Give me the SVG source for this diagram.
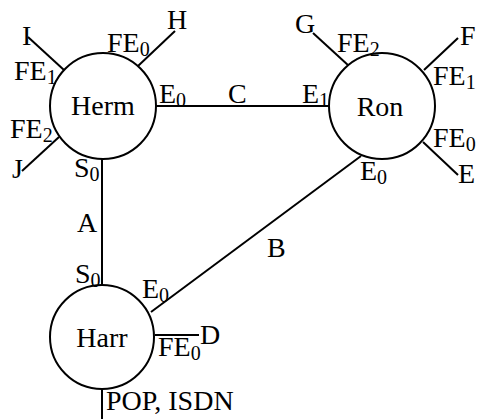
<svg xmlns="http://www.w3.org/2000/svg" width="477" height="419" viewBox="0 0 477 419">
<style>
text{font-family:"Liberation Serif","Times New Roman",serif;font-size:28px;fill:#000}
.sub{font-size:20px}
.mid{text-anchor:middle}
circle{fill:#fff;stroke:#000;stroke-width:2}
line{stroke:#000;stroke-width:2}
</style>
<rect width="477" height="419" fill="#fff"/>
<g id="connectors">
<line x1="102" y1="159" x2="102" y2="285"/>
<line x1="156" y1="106" x2="329" y2="106"/>
<line x1="151" y1="312" x2="361" y2="156"/>
<line x1="155" y1="335" x2="199" y2="335"/>
<line x1="102" y1="390" x2="102" y2="419"/>
<line x1="138" y1="66" x2="175" y2="31"/>
<line x1="64" y1="70" x2="28" y2="37"/>
<line x1="59" y1="137" x2="22" y2="171"/>
<line x1="349" y1="66" x2="313" y2="33"/>
<line x1="424" y1="70" x2="458" y2="38"/>
<line x1="423" y1="142" x2="458" y2="175"/>
<text x="228" y="103">C</text>
<text x="77" y="232">A</text>
<text x="267" y="257">B</text>
<text x="200" y="344">D</text>
<text x="106" y="410">POP, ISDN</text>
<text x="167" y="29">H</text>
<text x="22" y="45">I</text>
<text x="12" y="178">J</text>
<text x="295" y="33">G</text>
<text x="460" y="45">F</text>
<text x="458" y="183">E</text>
</g>
<g id="herm">
<circle cx="103" cy="106" r="53"/>
<text class="mid" x="103" y="115">Herm</text>
<text x="107" y="52">FE<tspan class="sub" dy="4">0</tspan></text>
<text x="14" y="80">FE<tspan class="sub" dy="4">1</tspan></text>
<text x="10" y="138">FE<tspan class="sub" dy="4">2</tspan></text>
<text x="159" y="103">E<tspan class="sub" dy="4">0</tspan></text>
<text x="74" y="177">S<tspan class="sub" dy="4">0</tspan></text>
</g>
<g id="ron">
<circle cx="382" cy="106" r="53"/>
<text class="mid" x="380" y="116">Ron</text>
<text x="302" y="103">E<tspan class="sub" dy="4">1</tspan></text>
<text x="337" y="52">FE<tspan class="sub" dy="4">2</tspan></text>
<text x="433" y="85">FE<tspan class="sub" dy="4">1</tspan></text>
<text x="433" y="147">FE<tspan class="sub" dy="4">0</tspan></text>
<text x="360" y="180">E<tspan class="sub" dy="4">0</tspan></text>
</g>
<g id="harr">
<circle cx="102" cy="337" r="52"/>
<text class="mid" x="102" y="347">Harr</text>
<text x="75" y="283">S<tspan class="sub" dy="4">0</tspan></text>
<text x="142" y="298">E<tspan class="sub" dy="4">0</tspan></text>
<text x="158" y="356">FE<tspan class="sub" dy="4">0</tspan></text>
</g>
</svg>
